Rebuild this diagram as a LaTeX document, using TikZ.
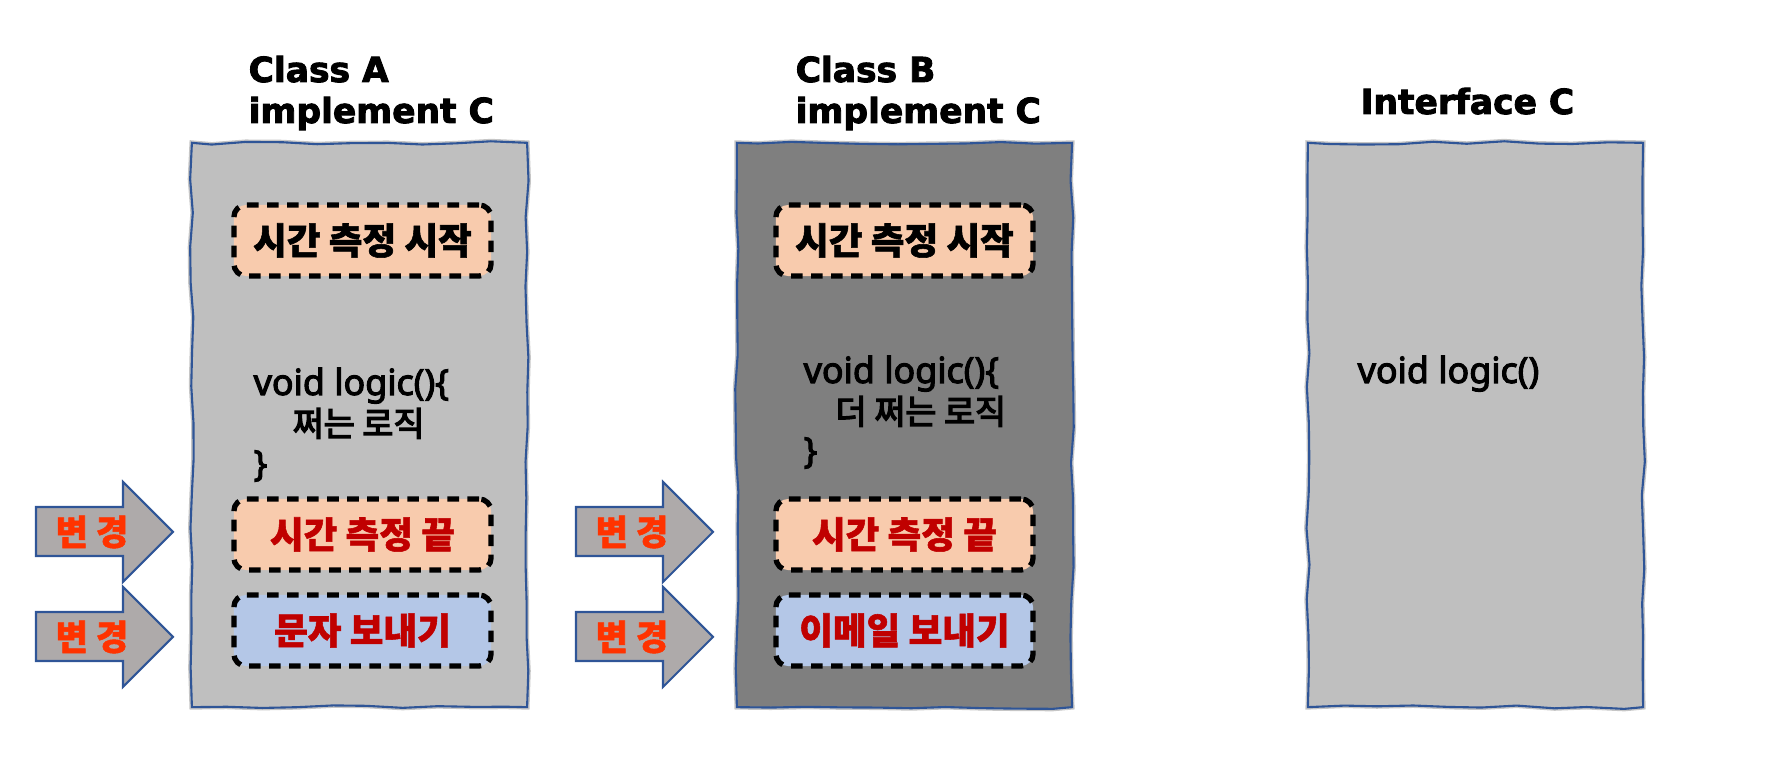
\documentclass[tikz,border=0pt]{standalone}
\usepackage{fontspec}
\setmainfont{Noto Sans}[FakeBold=3]
\newfontfamily\krfont{Noto Sans CJK KR}[BoldFeatures={FakeBold=1.5}]
\newfontfamily\krcode{Noto Sans CJK KR}[FakeBold=4]
\newfontfamily\headfont{DejaVu Sans}[BoldFeatures={FakeBold=2.6}]
\usetikzlibrary{decorations.pathmorphing}
\definecolor{panelline}{HTML}{2F5597}
\definecolor{lightpanel}{HTML}{BFBFBF}
\definecolor{darkpanel}{HTML}{7F7F7F}
\definecolor{peach}{HTML}{F8CBAD}
\definecolor{paleblue}{HTML}{B4C7E7}
\definecolor{darkred}{HTML}{C00000}
\definecolor{changered}{HTML}{FF3300}
\definecolor{arrowgray}{HTML}{AEAAAA}
\tikzset{
  panel/.style={draw=panelline, line width=0.6pt, minimum width=3.35cm, minimum height=5.64cm,
    decorate, decoration={random steps, segment length=0.35cm, amplitude=0.5pt},
    preaction={draw=gray!45, line width=1.4pt}},
  stepbox/.style={draw=black, line width=1.5pt, dash pattern=on 3.3pt off 2.4pt,
    rounded corners=0.12cm, minimum width=2.57cm, minimum height=0.71cm,
    font=\krfont\bfseries\fontsize{10.4}{12}\selectfont},
  classtitle/.style={anchor=base west, inner sep=0pt, font=\headfont\bfseries\fontsize{9.8}{11}\selectfont},
  code/.style={anchor=base west, inner sep=0pt, font=\fontsize{10.2}{12}\selectfont},
  codekr/.style={anchor=base west, inner sep=0pt, font=\krcode\fontsize{9.6}{12}\selectfont},
  change/.style={draw=panelline, line width=0.6pt, fill=arrowgray},
  changetext/.style={inner sep=0pt, text=changered, font=\krfont\bfseries\fontsize{10}{11}\selectfont}
}
\begin{document}
\begin{tikzpicture}[x=0.01cm, y=-0.01cm]
    \pgfmathsetseed{7}
    \useasboundingbox (0,0) rectangle (1787,771);

    % Panels
    \node[panel, fill=lightpanel] (pa) at (359.5,425) {};
    \node[panel, fill=darkpanel] (pb) at (904.5,425) {};
    \node[panel, fill=lightpanel] (pc) at (1475.5,425) {};

    % Titles
    \node[classtitle] (titleA1) at (248,82) {Class A};
    \node[classtitle] (titleA2) at (248,123) {implement C};
    \node[classtitle] (titleB1) at (795,82) {Class B};
    \node[classtitle] (titleB2) at (795,123) {implement C};
    \node[classtitle] (titleC) at (1360,114) {Interface C};

    % Class A
    \node[stepbox, fill=peach] (startA) at (362.5,240.5) {시간 측정 시작};
    \node[code] (codeA1) at (253,395) {void logic()\{};
    \node[codekr] (codeA2) at (292,436) {쩌는 로직};
    \node[code] (codeA3) at (253,476) {\}};
    \node[stepbox, fill=peach, text=darkred] (endA) at (362.5,534.5) {시간 측정 끝};
    \node[stepbox, fill=paleblue, text=darkred] (sendA) at (362.5,630.5) {문자 보내기};

    % Class B
    \node[stepbox, fill=peach] (startB) at (904.5,240.5) {시간 측정 시작};
    \node[code] (codeB1) at (803,383) {void logic()\{};
    \node[codekr] (codeB2) at (835,424) {더 쩌는 로직};
    \node[code] (codeB3) at (803,463) {\}};
    \node[stepbox, fill=peach, text=darkred] (endB) at (904.5,534.5) {시간 측정 끝};
    \node[stepbox, fill=paleblue, text=darkred] (sendB) at (904.5,630.5) {이메일 보내기};

    % Interface C
    \node[code] (codeC) at (1357,383) {void logic()};

    % Change arrows
    \coordinate (tipA1) at (173,532);
    \coordinate (tipA2) at (173,637);
    \coordinate (tipB1) at (713,532);
    \coordinate (tipB2) at (713,637);
    \draw[change] (tipA1) -- ++(-50,-50) -- ++(0,25) -- ++(-87,0) -- ++(0,49) -- ++(87,0) -- ++(0,26) -- cycle;
    \draw[change] (tipA2) -- ++(-50,-50) -- ++(0,25) -- ++(-87,0) -- ++(0,49) -- ++(87,0) -- ++(0,26) -- cycle;
    \draw[change] (tipB1) -- ++(-50,-50) -- ++(0,25) -- ++(-87,0) -- ++(0,49) -- ++(87,0) -- ++(0,26) -- cycle;
    \draw[change] (tipB2) -- ++(-50,-50) -- ++(0,25) -- ++(-87,0) -- ++(0,49) -- ++(87,0) -- ++(0,26) -- cycle;
    \node[changetext] (chgA1) at (92,532) {변 경};
    \node[changetext] (chgA2) at (92,637) {변 경};
    \node[changetext] (chgB1) at (632,532) {변 경};
    \node[changetext] (chgB2) at (632,637) {변 경};
\end{tikzpicture}
\end{document}
